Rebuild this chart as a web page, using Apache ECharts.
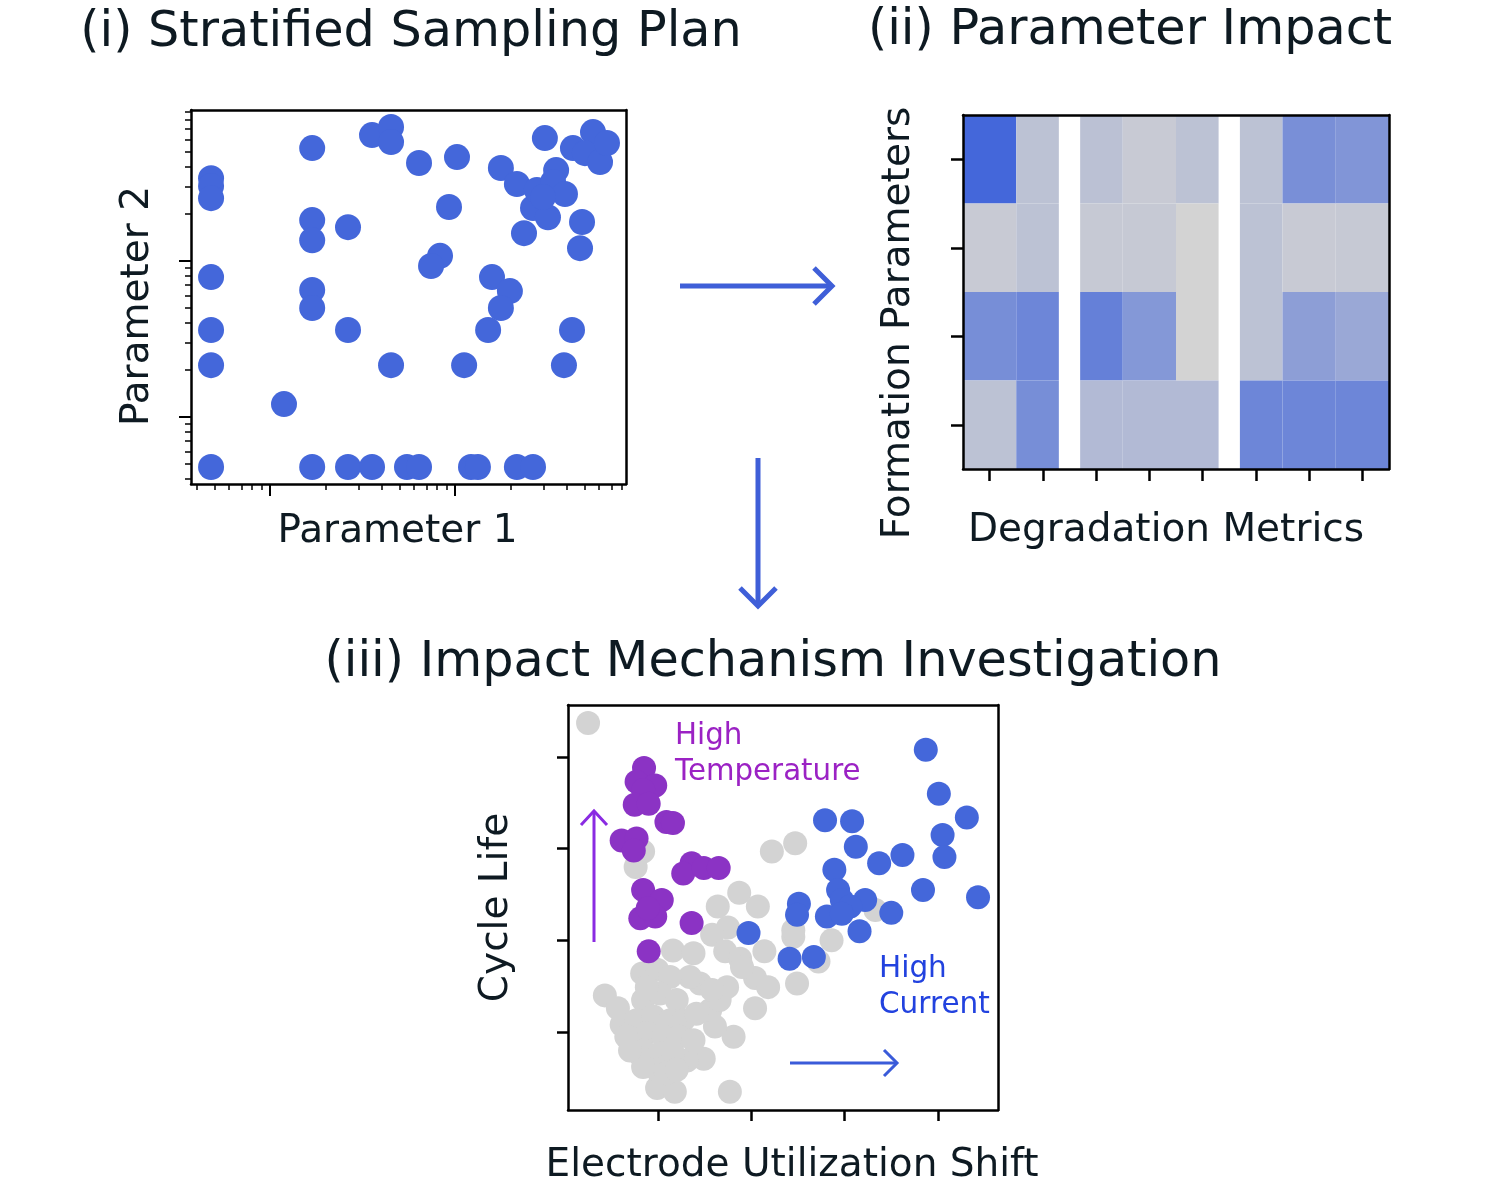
<!DOCTYPE html>
<html><head><meta charset="utf-8">
<script src="https://cdn.jsdelivr.net/npm/echarts@6/dist/echarts.min.js"></script>
<style>html,body{margin:0;padding:0;background:#fff}#c{width:1510px;height:1188px}</style>
</head><body><div id="c"></div>
<script>
// ---------- Panel (i): stratified sampling plan (log-log) ----------
const p1X = [0.48,0.48,0.48,0.48,0.48,0.48,0.48,
  1.69,1.69,1.69,2.64,1.69,1.69,2.64,1.19,1.69,2.64,3.56,5.50,6.39,12.2,13.3,21.6,26.4,
  3.56,4.51,4.51,6.39,10.25,9.28,8.30,7.42,4.51,11.2,
  17.7,21.6,30.6,26.4,31.8,27.7,35.2,33.9,39.3,23.6,48.6,47.4,43.4,55.7,50.4,60.8,66.3,
  15.85,19.8,17.7,15.1,42.9,38.8,29.9];
const p1Y = [34.0,30.3,25.3,7.89,3.61,2.15,0.478,
  53.0,18.3,13.6,16.5,6.52,5.0,3.61,1.21,0.478,0.478,0.478,0.478,0.478,0.478,0.478,0.478,0.478,
  64.2,72.3,57.9,42.5,46.4,22.2,10.8,9.29,2.15,2.15,
  39.5,31.2,61.4,21.9,19.1,28.5,38.3,32.1,26.9,15.1,17.8,12.1,53.0,67.1,49.2,43.1,57.1,
  7.89,6.42,5.0,3.61,3.61,2.15,25.7];
const p1MajorTicks = [1, 10];
const p1XMinorTicks = [0.4,0.5,0.6,0.7,0.8,0.9,2,3,4,5,6,7,8,9,20,30,40,50,60,70,80];
const p1YMinorTicks = [0.4,0.5,0.6,0.7,0.8,0.9,2,3,4,5,6,7,8,9,20,30,40,50,60,70,80,90];
const p1XRange = [0.374, 84];
const p1YRange = [0.372, 93];

// ---------- Panel (ii): parameter impact heatmap ----------
const metricCount = 8;
const paramCount = 4;
// extent of each metric column (in metric units) — two narrow blank gaps in between
const colStart = [0, 1, 2.2, 3, 4, 5.2, 6, 7];
const colEnd   = [1, 1.8, 3, 4, 4.8, 6, 7, 8];
const impact = [
  [1.00, 0.16, 0.17, 0.08, 0.16, 0.16, 0.63, 0.57],
  [0.08, 0.16, 0.09, 0.09, 0.00, 0.16, 0.08, 0.09],
  [0.64, 0.71, 0.77, 0.55, 0.00, 0.16, 0.49, 0.40],
  [0.16, 0.64, 0.23, 0.23, 0.23, 0.71, 0.71, 0.71]
];

// ---------- Panel (iii): impact mechanism investigation ----------
const grayX = [0.25,2.22,2.47,0.84,0.76,1.87,1.64,2.07,1.75,1.58,2.45,2.86,3.33,1.16,1.38,1.72,1.88,2.14,2.72,2.49,
  2.04,2.18,2.04,1.81,0.43,0.57,0.61,1.77,0.99,1.18,1.49,1.31,0.81,0.77,1.61,1.56,1.74,1.66,1.45,1.34,
  0.83,0.99,1.13,0.84,1.02,1.20,0.77,0.95,1.13,1.27,0.88,1.06,1.22,0.84,1.02,1.16,0.99,1.09,1.41,0.66,
  0.84,1.58,1.90,2.45,0.88,1.20,0.70,1.38];
const grayY = [4.37,2.97,3.06,2.97,2.80,2.52,2.37,2.37,2.14,2.06,2.04,2.00,2.33,1.89,1.86,1.88,1.80,1.88,1.77,1.53,
  1.59,1.49,1.26,0.95,1.40,1.26,1.08,0.35,0.39,0.35,0.71,0.69,0.75,0.86,1.06,1.24,1.49,1.35,1.53,1.60,
  1.64,1.68,1.60,1.35,1.42,1.35,1.13,1.17,1.13,1.13,0.99,0.95,0.95,0.80,0.77,0.77,0.59,0.55,1.20,0.95,
  0.62,1.46,1.71,2.11,1.49,0.59,0.80,0.91];
const purpleX = [0.85,0.77,0.97,0.84,0.75,0.90,1.09,1.16,0.61,0.77,0.74,1.36,1.27,1.49,1.65,0.84,1.04,0.81,0.97,1.36,0.90,0.89];
const purpleY = [3.88,3.73,3.69,3.64,3.48,3.49,3.29,3.28,3.09,3.11,2.98,2.84,2.73,2.79,2.79,2.55,2.44,2.24,2.26,2.19,1.88,2.35];
const blueX = [3.87,4.01,2.79,3.08,4.31,4.05,3.12,4.07,3.62,3.37,2.89,2.93,3.84,4.43,2.51,2.97,3.22,3.06,3.50,2.49,2.81,2.97,3.16,1.97,2.41,2.67];
const blueY = [4.08,3.60,3.31,3.30,3.34,3.15,3.02,2.91,2.93,2.84,2.77,2.55,2.55,2.47,2.40,2.44,2.44,2.37,2.30,2.28,2.26,2.29,2.10,2.08,1.80,1.82];
const p3Ticks = [1, 2, 3, 4];
const p3XRange = [0.035, 4.644];
const p3YRange = [0.15, 4.567];

const ink = '#0e1a22';
const royal = '#4467da';
const zip = (a, b) => a.map((v, i) => [v, b[i]]);

const heatData = [];
impact.forEach((row, r) => row.forEach((v, c) => heatData.push([colStart[c], colEnd[c], r, v])));
const metricTicks = Array.from({length: metricCount}, (_, i) => i + 0.5);
const paramTicks = Array.from({length: paramCount}, (_, i) => i + 0.5);

const nameStyle = {fontFamily: 'DejaVu Sans', fontSize: 39, color: ink};
const boxLine = {show: true, onZero: false, lineStyle: {color: '#000', width: 2.5}};
function frameAxis(grid, pos) {
  return {gridIndex: grid, type: 'value', position: pos, min: 0, max: 1, z: 10,
    axisLine: boxLine, axisTick: {show: false}, axisLabel: {show: false}, splitLine: {show: false}};
}

const chart = echarts.init(document.getElementById('c'), null, {renderer: 'canvas'});
chart.setOption({
  backgroundColor: '#fff',
  animation: false,
  grid: [
    {left: 191, top: 110, width: 435, height: 374},
    {left: 963, top: 115, width: 426, height: 354},
    {left: 568, top: 705, width: 430, height: 405}
  ],
  xAxis: [
    {gridIndex: 0, type: 'log', min: p1XRange[0], max: p1XRange[1], position: 'bottom', z: 10,
      axisLine: boxLine,
      axisTick: {show: true, customValues: p1MajorTicks, length: 12, lineStyle: {color: '#000', width: 2}},
      axisLabel: {show: false}, splitLine: {show: false}, minorTick: {show: false},
      name: 'Parameter 1', nameLocation: 'middle', nameGap: 28,
      nameTextStyle: Object.assign({}, nameStyle, {padding: [0, 22, 0, 0]})},
    {gridIndex: 0, type: 'log', min: p1XRange[0], max: p1XRange[1], position: 'bottom', z: 10,
      axisLine: {show: false, onZero: false},
      axisTick: {show: true, customValues: p1XMinorTicks, length: 6, lineStyle: {color: '#000', width: 1.5}},
      axisLabel: {show: false}, splitLine: {show: false}},
    frameAxis(0, 'top'),
    {gridIndex: 1, type: 'value', min: 0, max: metricCount, position: 'bottom', z: 10,
      axisLine: boxLine,
      axisTick: {show: true, customValues: metricTicks, length: 12, lineStyle: {color: '#000', width: 2.5}},
      axisLabel: {show: false}, splitLine: {show: false},
      name: 'Degradation Metrics', nameLocation: 'middle', nameGap: 42,
      nameTextStyle: Object.assign({}, nameStyle, {padding: [0, 20, 0, 0]})},
    frameAxis(1, 'top'),
    {gridIndex: 2, type: 'value', min: p3XRange[0], max: p3XRange[1], position: 'bottom', z: 10,
      axisLine: boxLine,
      axisTick: {show: true, customValues: p3Ticks, length: 11, lineStyle: {color: '#000', width: 2.5}},
      axisLabel: {show: false}, splitLine: {show: false},
      name: 'Electrode Utilization Shift', nameLocation: 'middle', nameGap: 36,
      nameTextStyle: Object.assign({}, nameStyle, {padding: [0, 0, 0, 18]})},
    frameAxis(2, 'top')
  ],
  yAxis: [
    {gridIndex: 0, type: 'log', min: p1YRange[0], max: p1YRange[1], position: 'left', z: 10,
      axisLine: boxLine,
      axisTick: {show: true, customValues: p1MajorTicks, length: 12, lineStyle: {color: '#000', width: 2}},
      axisLabel: {show: false}, splitLine: {show: false},
      name: 'Parameter 2', nameLocation: 'middle', nameGap: 34,
      nameTextStyle: Object.assign({}, nameStyle, {padding: [0, 18, 0, 0]})},
    {gridIndex: 0, type: 'log', min: p1YRange[0], max: p1YRange[1], position: 'left', z: 10,
      axisLine: {show: false, onZero: false},
      axisTick: {show: true, customValues: p1YMinorTicks, length: 6, lineStyle: {color: '#000', width: 1.5}},
      axisLabel: {show: false}, splitLine: {show: false}},
    frameAxis(0, 'right'),
    {gridIndex: 1, type: 'value', min: 0, max: paramCount, inverse: true, position: 'left', z: 10,
      axisLine: boxLine,
      axisTick: {show: true, customValues: paramTicks, length: 12, lineStyle: {color: '#000', width: 2.5}},
      axisLabel: {show: false}, splitLine: {show: false},
      name: 'Formation Parameters', nameLocation: 'middle', nameGap: 45,
      nameTextStyle: Object.assign({}, nameStyle, {padding: [0, 62, 0, 0]})},
    frameAxis(1, 'right'),
    {gridIndex: 2, type: 'value', min: p3YRange[0], max: p3YRange[1], position: 'left', z: 10,
      axisLine: boxLine,
      axisTick: {show: true, customValues: p3Ticks, length: 11, lineStyle: {color: '#000', width: 2.5}},
      axisLabel: {show: false}, splitLine: {show: false},
      name: 'Cycle Life', nameLocation: 'middle', nameGap: 52,
      nameTextStyle: nameStyle},
    frameAxis(2, 'right')
  ],
  visualMap: [{type: 'continuous', show: false, min: 0, max: 1, dimension: 3, seriesIndex: 1,
    inRange: {color: ['#d3d3d3', '#4467da']}}],
  series: [
    {type: 'scatter', xAxisIndex: 0, yAxisIndex: 0, symbolSize: 26, data: zip(p1X, p1Y),
      itemStyle: {color: royal, opacity: 1}},
    {type: 'custom', xAxisIndex: 3, yAxisIndex: 3, data: heatData,
      encode: {x: [0, 1], y: 2},
      renderItem: function (params, api) {
        const r = api.value(2);
        const a = api.coord([api.value(0), r]);
        const b = api.coord([api.value(1), r + 1]);
        return {type: 'rect',
          shape: {x: a[0], y: Math.min(a[1], b[1]), width: b[0] - a[0], height: Math.abs(b[1] - a[1])},
          style: {fill: api.visual('color')}};
      }},
    {type: 'scatter', xAxisIndex: 5, yAxisIndex: 5, symbolSize: 24, data: zip(grayX, grayY),
      itemStyle: {color: '#d3d3d3', opacity: 1}},
    {type: 'scatter', xAxisIndex: 5, yAxisIndex: 5, symbolSize: 24, data: zip(purpleX, purpleY),
      itemStyle: {color: '#8b33c4', opacity: 1}},
    {type: 'scatter', xAxisIndex: 5, yAxisIndex: 5, symbolSize: 24, data: zip(blueX, blueY),
      itemStyle: {color: royal, opacity: 1}}
  ],
  graphic: [
    {type: 'text', x: 411, y: 33, style: {text: '(i) Stratified Sampling Plan', font: '49.3px "DejaVu Sans"', fill: ink, textAlign: 'center', textVerticalAlign: 'middle'}},
    {type: 'text', x: 1130, y: 31, style: {text: '(ii) Parameter Impact', font: '49.3px "DejaVu Sans"', fill: ink, textAlign: 'center', textVerticalAlign: 'middle'}},
    {type: 'text', x: 773, y: 663, style: {text: '(iii) Impact Mechanism Investigation', font: '49.3px "DejaVu Sans"', fill: ink, textAlign: 'center', textVerticalAlign: 'middle'}},
    // flow arrows between panels
    {type: 'polyline', shape: {points: [[680, 286], [831, 286]]}, style: {stroke: '#3f5fd8', lineWidth: 5}},
    {type: 'polyline', shape: {points: [[814, 268], [832, 286], [814, 304]]}, style: {stroke: '#3f5fd8', lineWidth: 5, fill: null}},
    {type: 'polyline', shape: {points: [[758, 458], [758, 606]]}, style: {stroke: '#3f5fd8', lineWidth: 5}},
    {type: 'polyline', shape: {points: [[740, 588], [758, 606], [776, 588]]}, style: {stroke: '#3f5fd8', lineWidth: 5, fill: null}},
    // annotations in panel (iii)
    {type: 'polyline', z: 20, shape: {points: [[594, 942], [594, 811]]}, style: {stroke: '#8a2be2', lineWidth: 3}},
    {type: 'polyline', z: 20, shape: {points: [[581, 825], [594, 811], [607, 825]]}, style: {stroke: '#8a2be2', lineWidth: 3, fill: null}},
    {type: 'polyline', z: 20, shape: {points: [[790, 1063], [897, 1063]]}, style: {stroke: '#3a5bd9', lineWidth: 3}},
    {type: 'polyline', z: 20, shape: {points: [[884, 1050], [897, 1063], [884, 1076]]}, style: {stroke: '#3a5bd9', lineWidth: 3, fill: null}},
    {type: 'text', z: 20, x: 675, y: 736, style: {text: 'High', font: '29.3px "DejaVu Sans"', fill: '#9b22c4', textAlign: 'left', textVerticalAlign: 'middle'}},
    {type: 'text', z: 20, x: 675, y: 772, style: {text: 'Temperature', font: '29.3px "DejaVu Sans"', fill: '#9b22c4', textAlign: 'left', textVerticalAlign: 'middle'}},
    {type: 'text', z: 20, x: 879, y: 969, style: {text: 'High', font: '29.5px "DejaVu Sans"', fill: '#2242df', textAlign: 'left', textVerticalAlign: 'middle'}},
    {type: 'text', z: 20, x: 879, y: 1005, style: {text: 'Current', font: '29.5px "DejaVu Sans"', fill: '#2242df', textAlign: 'left', textVerticalAlign: 'middle'}}
  ]
});
</script></body></html>
